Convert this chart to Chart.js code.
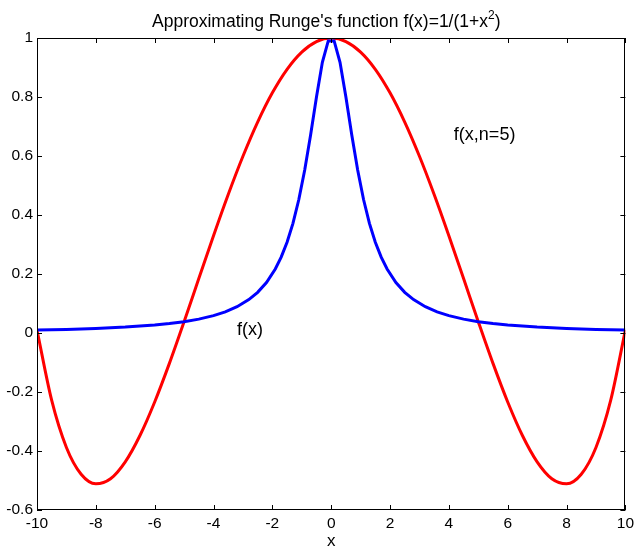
<!DOCTYPE html>
<html>
<head>
<meta charset="utf-8">
<script src="https://cdn.jsdelivr.net/npm/chart.js@4.4.1/dist/chart.umd.min.js"></script>
<style>
  html, body { margin: 0; padding: 0; background: #fff; }
  #wrap { width: 638px; height: 549px; position: relative; }
</style>
</head>
<body>
<div id="wrap"><canvas id="runge"></canvas></div>
<script>
// f(x) = 1/(1+x^2), sampled points
const fX = [-10, -9, -8, -7, -6, -5.5, -5, -4.5, -4, -3.6, -3.2, -2.8, -2.5, -2.2, -1.9, -1.7, -1.5, -1.3, -1.1, -0.9, -0.7, -0.5, -0.3, -0.1,
  0.1, 0.3, 0.5, 0.7, 0.9, 1.1, 1.3, 1.5, 1.7, 1.9, 2.2, 2.5, 2.8, 3.2, 3.6, 4, 4.5, 5, 5.5, 6, 7, 8, 9, 10];
const fY = [0.0099, 0.0122, 0.0154, 0.0200, 0.0270, 0.0320, 0.0385, 0.0471, 0.0588, 0.0716, 0.0890, 0.1131, 0.1379, 0.1712, 0.2169, 0.2571, 0.3077, 0.3717, 0.4525, 0.5525, 0.6711, 0.8000, 0.9174, 0.9901,
  0.9901, 0.9174, 0.8000, 0.6711, 0.5525, 0.4525, 0.3717, 0.3077, 0.2571, 0.2169, 0.1712, 0.1379, 0.1131, 0.0890, 0.0716, 0.0588, 0.0471, 0.0385, 0.0320, 0.0270, 0.0200, 0.0154, 0.0122, 0.0099];

// interpolating polynomial, n = 5 nodes
const pX = [-10, -9.5, -9, -8.5, -8, -7.5, -7, -6.5, -6, -5.5, -5, -4.5, -4, -3.5, -3, -2.5, -2, -1.5, -1, -0.5, 0,
  0.5, 1, 1.5, 2, 2.5, 3, 3.5, 4, 4.5, 5, 5.5, 6, 6.5, 7, 7.5, 8, 8.5, 9, 9.5, 10];
const pY = [0.0099, -0.2287, -0.3880, -0.4788, -0.5110, -0.4941, -0.4368, -0.3475, -0.2338, -0.1030, 0.0385, 0.1845, 0.3298, 0.4694, 0.5990, 0.7150, 0.8142, 0.8940, 0.9524, 0.9880, 1.0000,
  0.9880, 0.9524, 0.8940, 0.8142, 0.7150, 0.5990, 0.4694, 0.3298, 0.1845, 0.0385, -0.1030, -0.2338, -0.3475, -0.4368, -0.4941, -0.5110, -0.4788, -0.3880, -0.2287, 0.0099];

const xTicks = [-10, -8, -6, -4, -2, 0, 2, 4, 6, 8, 10];
const yTicks = [-0.6, -0.4, -0.2, 0, 0.2, 0.4, 0.6, 0.8, 1];

const labels = [
  { text: 'f(x)', x: -3.2, y: 0.01 },
  { text: 'f(x,n=5)', x: 4.17, y: 0.67 }
];

const FONT = '"Liberation Sans", Arial, sans-serif';
const zip = (xs, ys) => xs.map((x, i) => ({ x, y: ys[i] }));

// box, inward ticks, title and text labels
const matlabLook = {
  id: 'matlabLook',
  afterDraw(chart) {
    const { ctx, chartArea: a, scales: { x, y } } = chart;
    ctx.save();
    ctx.strokeStyle = '#000';
    ctx.lineWidth = 1;
    ctx.strokeRect(Math.round(a.left) + 0.5, Math.round(a.top) + 0.5, Math.round(a.width) - 1, Math.round(a.height) - 1);
    ctx.beginPath();
    xTicks.forEach(v => {
      const px = Math.round(x.getPixelForValue(v)) + 0.5;
      ctx.moveTo(px, a.bottom); ctx.lineTo(px, a.bottom - 5);
      ctx.moveTo(px, a.top); ctx.lineTo(px, a.top + 5);
    });
    yTicks.forEach(v => {
      const py = Math.round(y.getPixelForValue(v)) + 0.5;
      ctx.moveTo(a.left, py); ctx.lineTo(a.left + 5, py);
      ctx.moveTo(a.right, py); ctx.lineTo(a.right - 5, py);
    });
    ctx.stroke();

    ctx.fillStyle = '#000';
    ctx.font = '18px ' + FONT;
    ctx.textBaseline = 'middle';
    ctx.textAlign = 'left';
    labels.forEach(l => ctx.fillText(l.text, x.getPixelForValue(l.x), y.getPixelForValue(l.y)));

    // title with superscript 2
    const main = "Approximating Runge's function f(x)=1/(1+x";
    const sup = '2', tail = ')';
    ctx.textBaseline = 'alphabetic';
    ctx.font = '17.5px ' + FONT;
    const w1 = ctx.measureText(main).width, w3 = ctx.measureText(tail).width;
    ctx.font = '12px ' + FONT;
    const w2 = ctx.measureText(sup).width;
    const tx = 152;
    const base = 27;
    ctx.font = '17.5px ' + FONT;
    ctx.fillText(main, tx, base);
    ctx.font = '12px ' + FONT;
    ctx.fillText(sup, tx + w1, base - 8);
    ctx.font = '17.5px ' + FONT;
    ctx.fillText(tail, tx + w1 + w2, base);

    ctx.textAlign = 'center';
    ctx.font = '17px ' + FONT;
    ctx.fillText('x', (a.left + a.right) / 2, 546);
    ctx.restore();
  }
};

new Chart(document.getElementById('runge'), {
  type: 'line',
  data: {
    datasets: [
      { data: zip(fX, fY), borderColor: '#0000ff', borderWidth: 3, pointRadius: 0, tension: 0, order: 0 },
      { data: zip(pX, pY), borderColor: '#ff0000', borderWidth: 3, pointRadius: 0, cubicInterpolationMode: 'monotone', order: 1 }
    ]
  },
  options: {
    responsive: true,
    maintainAspectRatio: false,
    animation: false,
    layout: { padding: { top: 38, right: 11, left: 0, bottom: 0 } },
    plugins: { legend: { display: false }, tooltip: { enabled: false }, title: { display: false } },
    scales: {
      x: {
        type: 'linear', min: -10, max: 10,
        grid: { display: false, drawTicks: false },
        border: { display: false },
        afterFit: s => { s.height = 39; },
        afterBuildTicks: s => { s.ticks = xTicks.map(v => ({ value: v })); },
        ticks: { color: '#000', font: { family: FONT, size: 15.5 }, padding: 4, maxRotation: 0, autoSkip: false }
      },
      y: {
        type: 'linear', min: -0.6, max: 1,
        grid: { display: false, drawTicks: false },
        border: { display: false },
        afterFit: s => { s.width = 37; },
        afterBuildTicks: s => { s.ticks = yTicks.map(v => ({ value: v })); },
        ticks: { color: '#000', font: { family: FONT, size: 15.5 }, padding: 4, autoSkip: false,
          callback: v => String(Number(v.toFixed(1))) }
      }
    }
  },
  plugins: [matlabLook]
});
</script>
</body>
</html>
